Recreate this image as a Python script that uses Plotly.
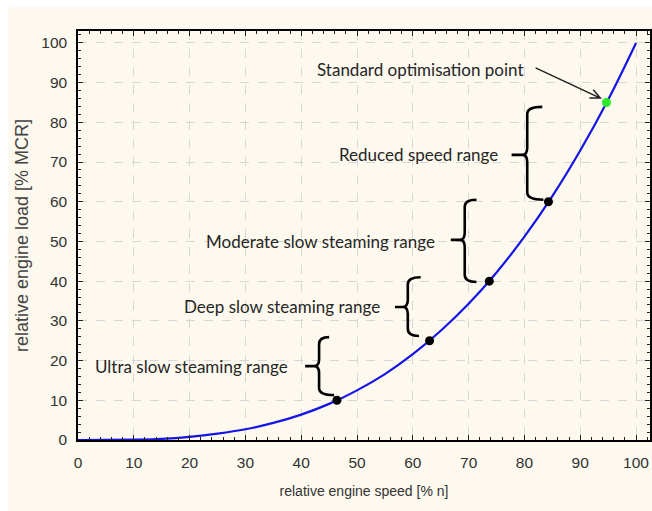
import math
import plotly.graph_objects as go

# Propeller-law curve: relative engine speed vs relative engine load
speed = [0, 5, 10, 15, 20, 25, 30, 35, 40, 45, 50, 55, 60, 65, 70, 75, 80, 85, 90, 95, 100]
load = [0, 0.01, 0.1, 0.3, 0.8, 1.6, 2.7, 4.3, 6.4, 9.1, 12.5, 16.6, 21.6, 27.5,
        34.3, 42.2, 51.2, 61.4, 72.9, 85.7, 100]

# Range boundary points on the curve
range_speed = [46.4, 63.0, 73.7, 84.3]
range_load = [10, 25, 40, 60]

# Standard optimisation point
opt_speed = [94.7]
opt_load = [85]

range_labels = ["Ultra slow steaming range", "Deep slow steaming range",
                "Moderate slow steaming range", "Reduced speed range"]
opt_label = "Standard optimisation point"

x_ticks = list(range(0, 101, 10))
y_ticks = list(range(0, 101, 10))

CREAM = "#fdf9ee"
TXT = "#262626"
TICK_FONT = dict(family="'Liberation Sans', Arial, sans-serif", size=15.5, color="#333")

fig = go.Figure()
fig.add_trace(go.Scatter(x=speed, y=load, mode="lines", line_shape="spline",
                         line=dict(color="#1414e6", width=2.2), hoverinfo="skip"))
fig.add_trace(go.Scatter(x=range_speed, y=range_load, mode="markers",
                         marker=dict(color="black", size=9)))
fig.add_trace(go.Scatter(x=opt_speed, y=opt_load, mode="markers",
                         marker=dict(color="#2bea2b", size=9)))

# Curly braces: (x of spine, top y, bottom y, middle y, top hook end, bottom hook end, left tip)
braces = [
    (43.2, 25.9, 11.3, 18.6, 45.0, 45.9, 40.7),
    (59.1, 41.0, 26.2, 33.5, 61.4, 61.1, 56.8),
    (69.3, 60.5, 39.8, 50.4, 71.4, 71.4, 66.8),
    (80.5, 83.9, 60.5, 71.8, 83.2, 83.4, 77.7),
]
shapes = []
ry, dx = 1.8, 0.9
for xv, yt, yb, ym, xt, xb, xl in braces:
    p = (f"M {xt},{yt} Q {xv},{yt} {xv},{yt-ry} L {xv},{ym+ry} "
         f"Q {xv},{ym} {xv-dx},{ym} L {xl},{ym} M {xv-dx},{ym} "
         f"Q {xv},{ym} {xv},{ym-ry} L {xv},{yb+ry} Q {xv},{yb} {xb},{yb}")
    shapes.append(dict(type="path", path=p, xref="x", yref="y",
                       line=dict(color="black", width=2.6)))

# Arrow pointing at the optimisation point
sx, sy = 5.6, 3.97  # pixels per data unit
x0, y0 = 82.0, 93.7
x1, y1 = 93.6, 86.1
vx, vy = (x0 - x1) * sx, (y0 - y1) * sy
n = math.hypot(vx, vy)
vx, vy = vx / n, vy / n
head = 11
pts = []
for a in (math.radians(25), math.radians(-25)):
    hx = vx * math.cos(a) - vy * math.sin(a)
    hy = vx * math.sin(a) + vy * math.cos(a)
    pts.append((x1 + hx * head / sx, y1 + hy * head / sy))
arrow = (f"M {x0},{y0} L {x1},{y1} M {pts[0][0]},{pts[0][1]} L {x1},{y1} "
         f"L {pts[1][0]},{pts[1][1]}")
shapes.append(dict(type="path", path=arrow, xref="x", yref="y",
                   line=dict(color="#222222", width=1.5)))

# White frame strips along the top and left of the cream panel
shapes.append(dict(type="rect", xref="paper", yref="paper", x0=-0.2, x1=1.1,
                   y0=1.058, y1=1.2, fillcolor="white", line=dict(width=0),
                   layer="below"))
shapes.append(dict(type="rect", xref="paper", yref="paper", x0=-0.2, x1=-0.122,
                   y0=-0.3, y1=1.2, fillcolor="white", line=dict(width=0),
                   layer="below"))

label_font = dict(family="Lato, 'Open Sans', sans-serif", size=17, color=TXT)
label_pos = [(37.9, 18.6), (54.5, 33.7), (64.3, 50.1), (75.7, 71.8)]
annotations = []
for txt, (lx, ly) in zip(range_labels, label_pos):
    annotations.append(dict(x=lx, y=ly, text=txt, showarrow=False, xanchor="right",
                            yanchor="middle", font=label_font))
annotations.append(dict(x=80.2, y=93.3, text=opt_label, showarrow=False,
                        xanchor="right", yanchor="middle", font=label_font))

axis_common = dict(
    showline=True, linecolor="black", linewidth=1.5,
    ticks="inside", ticklen=5, tickcolor="#222", tickwidth=1.3,
    mirror="ticks", showgrid=True, gridcolor="#d6d6d6", griddash="dash",
    gridwidth=1, zeroline=False, tickfont=TICK_FONT,
    minor=dict(dtick=2, ticks="inside", ticklen=3, tickcolor="#222", showgrid=False),
)

fig.update_layout(
    width=652, height=511,
    margin=dict(l=78, r=0, t=31, b=71),
    paper_bgcolor=CREAM, plot_bgcolor=CREAM,
    showlegend=False,
    shapes=shapes, annotations=annotations,
    xaxis=dict(range=[0, 102.5], tickvals=x_ticks, ticklabelstandoff=8,
               title=dict(text="relative engine speed [% n]", standoff=16,
                          font=dict(family="Liberation Sans, Arial, sans-serif",
                                    size=14, color="#333")),
               **axis_common),
    yaxis=dict(range=[0, 103], tickvals=y_ticks, ticklabelstandoff=6,
               title=dict(text="relative engine load [% MCR]", standoff=8,
                          font=dict(family="Liberation Sans, Arial, sans-serif",
                                    size=18, color="#444")),
               **axis_common),
)

fig.write_html("out.html")
